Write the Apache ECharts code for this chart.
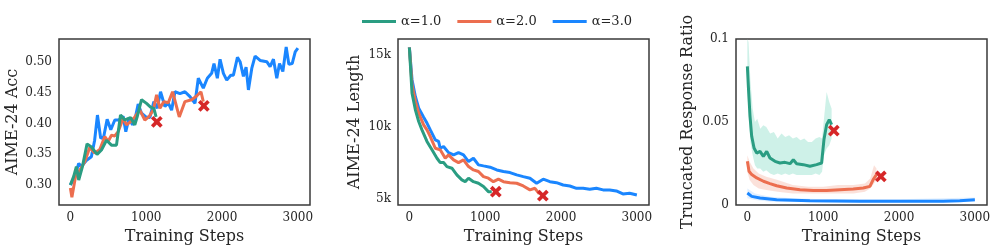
<!DOCTYPE html>
<html><head><meta charset="utf-8">
<script src="https://cdn.jsdelivr.net/npm/echarts@6/dist/echarts.min.js"></script>
<style>html,body{margin:0;padding:0;background:#fff}#c{width:997px;height:248px}</style>
</head><body><div id="c"></div>
<script>
// ---------- data ----------
const seriesNames = ['α=1.0', 'α=2.0', 'α=3.0'];
const xTicks = [0, 1000, 2000, 3000];
const accTicks = [0.30, 0.35, 0.40, 0.45, 0.50];
const lenTicks = [5000, 10000, 15000];
const truncTicks = [0, 0.05, 0.1];

// Panel 1: AIME-24 Acc
const accBlueSteps = [0,57,110,145,210,277,320,357,400,440,485,533,586,640,696,731,775,819,850,894,938,996,1048,1101,1145,1189,1247,1291,1335,1379,1445,1511,1577,1643,1687,1753,1806,1863,1894,1938,1974,2018,2062,2115,2150,2203,2238,2282,2317,2348,2392,2436,2502,2590,2634,2678,2722,2758,2802,2846,2881,2925,2965,3000];
const accBlueVals = [0.300,0.314,0.335,0.330,0.340,0.346,0.373,0.414,0.376,0.379,0.407,0.390,0.406,0.406,0.412,0.387,0.410,0.398,0.406,0.432,0.417,0.411,0.410,0.436,0.425,0.452,0.428,0.434,0.422,0.452,0.449,0.452,0.444,0.433,0.474,0.458,0.474,0.482,0.498,0.474,0.505,0.482,0.471,0.479,0.479,0.508,0.501,0.477,0.492,0.455,0.490,0.510,0.503,0.501,0.493,0.505,0.474,0.498,0.485,0.525,0.497,0.498,0.517,0.523];
const accOrangeSteps = [0,20,70,123,190,255,320,388,454,498,542,586,630,696,740,793,850,916,982,1040,1093,1137,1181,1233,1291,1348,1436,1511,1599,1665,1722,1753];
const accOrangeVals = [0.295,0.280,0.315,0.324,0.338,0.361,0.352,0.358,0.379,0.371,0.381,0.380,0.387,0.409,0.398,0.403,0.411,0.422,0.406,0.412,0.422,0.447,0.425,0.436,0.434,0.452,0.411,0.436,0.439,0.445,0.452,0.436];
const accGreenSteps = [0,44,79,110,159,220,277,352,410,476,542,608,661,718,793,850,881,938,1004,1057,1101,1130];
const accGreenVals = [0.300,0.314,0.330,0.308,0.330,0.367,0.362,0.350,0.357,0.373,0.365,0.365,0.414,0.406,0.410,0.398,0.411,0.439,0.433,0.427,0.425,0.411];

// Panel 2: AIME-24 Length
const lenBlueSteps = [0,35,79,123,188,232,276,342,385,407,451,517,583,648,714,780,845,911,977,1064,1152,1240,1327,1415,1502,1590,1678,1765,1853,1940,2028,2116,2204,2291,2379,2466,2554,2641,2729,2816,2904,3000];
const lenBlueVals = [15500,13270,12110,11300,10680,10270,9800,9110,9000,8530,8650,8230,8070,8230,8070,7610,7840,7380,7310,7220,7030,6920,6850,6690,6570,6460,6110,6390,6220,6150,5990,5920,5760,5760,5690,5760,5650,5650,5580,5370,5420,5300];
const lenOrangeSteps = [0,35,79,123,188,232,276,342,407,473,517,583,648,714,780,845,911,977,1042,1108,1174,1240,1327,1415,1502,1590,1656,1713];
const lenOrangeVals = [15500,12920,11770,10960,10150,9800,9340,8530,8420,7840,8070,7730,7540,7730,7260,7030,6920,6570,6460,6220,6390,6220,6150,6110,5920,5650,5760,5370];
const lenGreenSteps = [0,35,79,123,166,232,298,364,407,451,495,561,626,692,736,780,845,911,977,1042,1086];
const lenGreenVals = [15500,12340,11190,10380,9800,9000,8420,7840,7540,7540,7260,7150,6690,6340,6220,6460,6220,6110,5880,5530,5530];

// Panel 3: Truncated Response Ratio (mean)
const truncGreenSteps = [0,13,35,57,88,123,167,211,255,298,364,430,496,562,606,650,738,825,913,979,1010,1045,1080,1111];
const truncGreenVals = [0.0835,0.0715,0.0534,0.0414,0.0343,0.0313,0.0323,0.0293,0.0323,0.0283,0.0263,0.0253,0.0257,0.0249,0.0273,0.0249,0.0243,0.0233,0.0243,0.0253,0.0394,0.0484,0.0514,0.0484];
const truncOrangeSteps = [0,22,57,123,211,298,386,518,694,869,1045,1220,1396,1528,1616,1659,1703];
const truncOrangeVals = [0.0263,0.0203,0.0183,0.0163,0.0143,0.0129,0.0116,0.0102,0.0092,0.0088,0.0088,0.0092,0.0096,0.0102,0.0112,0.0153,0.0183];
const truncBlueSteps = [0,57,167,386,825,1484,2142,2581,2801,3000];
const truncBlueVals = [0.0072,0.0052,0.0042,0.0032,0.0026,0.0022,0.0022,0.0022,0.0026,0.0032];

// Panel 3 shaded spread: [step, low, high]
const truncGreenBand = [[0,0.070,0.100],[15,0.055,0.098],[40,0.038,0.075],[70,0.030,0.058],[100,0.024,0.050],[130,0.022,0.052],[170,0.022,0.046],[210,0.020,0.048],[250,0.021,0.047],[300,0.019,0.043],[350,0.018,0.044],[400,0.019,0.040],[450,0.018,0.043],[500,0.019,0.041],[550,0.018,0.042],[600,0.019,0.040],[650,0.018,0.041],[700,0.018,0.039],[750,0.018,0.040],[800,0.018,0.038],[850,0.018,0.038],[900,0.019,0.040],[950,0.018,0.041],[985,0.020,0.040],[1010,0.030,0.052],[1045,0.034,0.068],[1080,0.036,0.062],[1111,0.040,0.058]];
const truncOrangeBand = [[0,0.020,0.030],[30,0.015,0.026],[80,0.012,0.022],[150,0.010,0.019],[250,0.009,0.017],[400,0.008,0.015],[600,0.007,0.012],[800,0.007,0.011],[1000,0.007,0.011],[1200,0.007,0.012],[1400,0.007,0.012],[1550,0.008,0.013],[1620,0.010,0.016],[1670,0.013,0.024],[1703,0.015,0.022]];
const truncBlueBand = [[0,0.004,0.010],[100,0.003,0.007],[300,0.002,0.005],[600,0.002,0.004],[1000,0.0015,0.0035],[2000,0.0015,0.0035],[3000,0.002,0.0045]];

// Red crosses (end of runs)
const crashSteps = [1140, 1760];
const accCrash = [0.403, 0.429];
const lenCrash = [5526, 5250];
const truncCrash = [0.0448, 0.0172];

// ---------- styling ----------
const C = { green: '#2a9d82', orange: '#ec6e4f', blue: '#1a86ff', red: '#d62728' };
const FONT = 'DejaVu Serif';
const TXT = '#262626';
const zip = (a, b) => a.map((v, i) => [v, b[i]]);

const grids = [
  { left: 59, top: 39, width: 251, height: 166 },
  { left: 398, top: 39, width: 251, height: 166 },
  { left: 736, top: 39, width: 251, height: 166 }
].map(g => Object.assign(g, { show: true, borderColor: '#3a3a3a', borderWidth: 1.5, backgroundColor: '#fff', containLabel: false, outerBoundsMode: 'none' }));

function xAxis(i) {
  return {
    type: 'value', gridIndex: i, min: -150, max: 3160,
    name: 'Training Steps', nameLocation: 'middle', nameGap: 23,
    nameTextStyle: { fontFamily: FONT, fontSize: 16, color: TXT },
    axisLine: { show: false }, axisTick: { show: false }, splitLine: { show: false },
    axisLabel: { customValues: xTicks, formatter: v => String(v), fontFamily: FONT, fontSize: 12, color: TXT, margin: 7 }
  };
}
function yAxis(i, name, min, max, ticks, fmt, gap) {
  return {
    type: 'value', gridIndex: i, min, max,
    name, nameLocation: 'middle', nameGap: gap,
    nameTextStyle: { fontFamily: FONT, fontSize: 16, color: TXT },
    axisLine: { show: false }, axisTick: { show: false }, splitLine: { show: false },
    axisLabel: { customValues: ticks, formatter: fmt, fontFamily: FONT, fontSize: 12, color: TXT, margin: 7 }
  };
}
function line(name, gi, steps, vals, color) {
  return {
    type: 'line', name, xAxisIndex: gi, yAxisIndex: gi, data: zip(steps, vals),
    showSymbol: false, symbol: 'none', lineStyle: { color, width: 3 }, itemStyle: { color }
  };
}
function band(gi, data, color, opacity) {
  return {
    type: 'custom', xAxisIndex: gi, yAxisIndex: gi, silent: true,
    data: data, encode: { x: 0, y: [1, 2] },
    renderItem: function (params, api) {
      if (params.dataIndex !== 0) return;
      const pts = [];
      data.forEach(d => pts.push(api.coord([d[0], d[2]])));
      for (let k = data.length - 1; k >= 0; k--) pts.push(api.coord([data[k][0], data[k][1]]));
      return { type: 'polygon', shape: { points: pts }, style: { fill: color, opacity: opacity } };
    }
  };
}
function crosses(gi, vals) {
  return {
    type: 'scatter', xAxisIndex: gi, yAxisIndex: gi, data: zip(crashSteps, vals),
    symbol: 'path://M3.6,0h2.8v3.6h3.6v2.8h-3.6v3.6h-2.8v-3.6h-3.6v-2.8h3.6z', symbolSize: 13, symbolRotate: 45,
    itemStyle: { color: C.red, opacity: 1 }, z: 5
  };
}

const option = {
  animation: false,
  backgroundColor: '#fff',
  legend: {
    data: seriesNames, left: 357, top: 10, itemGap: 16, itemWidth: 34, itemHeight: 3,
    icon: 'rect', textStyle: { fontFamily: FONT, fontSize: 13, color: TXT }
  },
  grid: grids,
  xAxis: [xAxis(0), xAxis(1), xAxis(2)],
  yAxis: [
    yAxis(0, 'AIME-24 Acc', 0.2674, 0.538, accTicks, v => v.toFixed(2), 38),
    yAxis(1, 'AIME-24 Length', 4605, 16087, lenTicks, v => (v / 1000) + 'k', 35),
    yAxis(2, 'Truncated Response Ratio', 0, 0.1, truncTicks, v => String(v), 40)
  ],
  series: [
    line('α=3.0', 0, accBlueSteps, accBlueVals, C.blue),
    line('α=2.0', 0, accOrangeSteps, accOrangeVals, C.orange),
    line('α=1.0', 0, accGreenSteps, accGreenVals, C.green),
    crosses(0, accCrash),

    line('α=3.0', 1, lenBlueSteps, lenBlueVals, C.blue),
    line('α=2.0', 1, lenOrangeSteps, lenOrangeVals, C.orange),
    line('α=1.0', 1, lenGreenSteps, lenGreenVals, C.green),
    crosses(1, lenCrash),

    band(2, truncBlueBand, '#9cc9ff', 0.3),
    band(2, truncOrangeBand, '#f6b4a2', 0.4),
    band(2, truncGreenBand, '#a6e6d6', 0.55),
    line('α=3.0', 2, truncBlueSteps, truncBlueVals, C.blue),
    line('α=2.0', 2, truncOrangeSteps, truncOrangeVals, C.orange),
    line('α=1.0', 2, truncGreenSteps, truncGreenVals, C.green),
    crosses(2, truncCrash)
  ]
};
const chart = echarts.init(document.getElementById('c'), null, { renderer: 'canvas' });
chart.setOption(option);
</script>
</body></html>
